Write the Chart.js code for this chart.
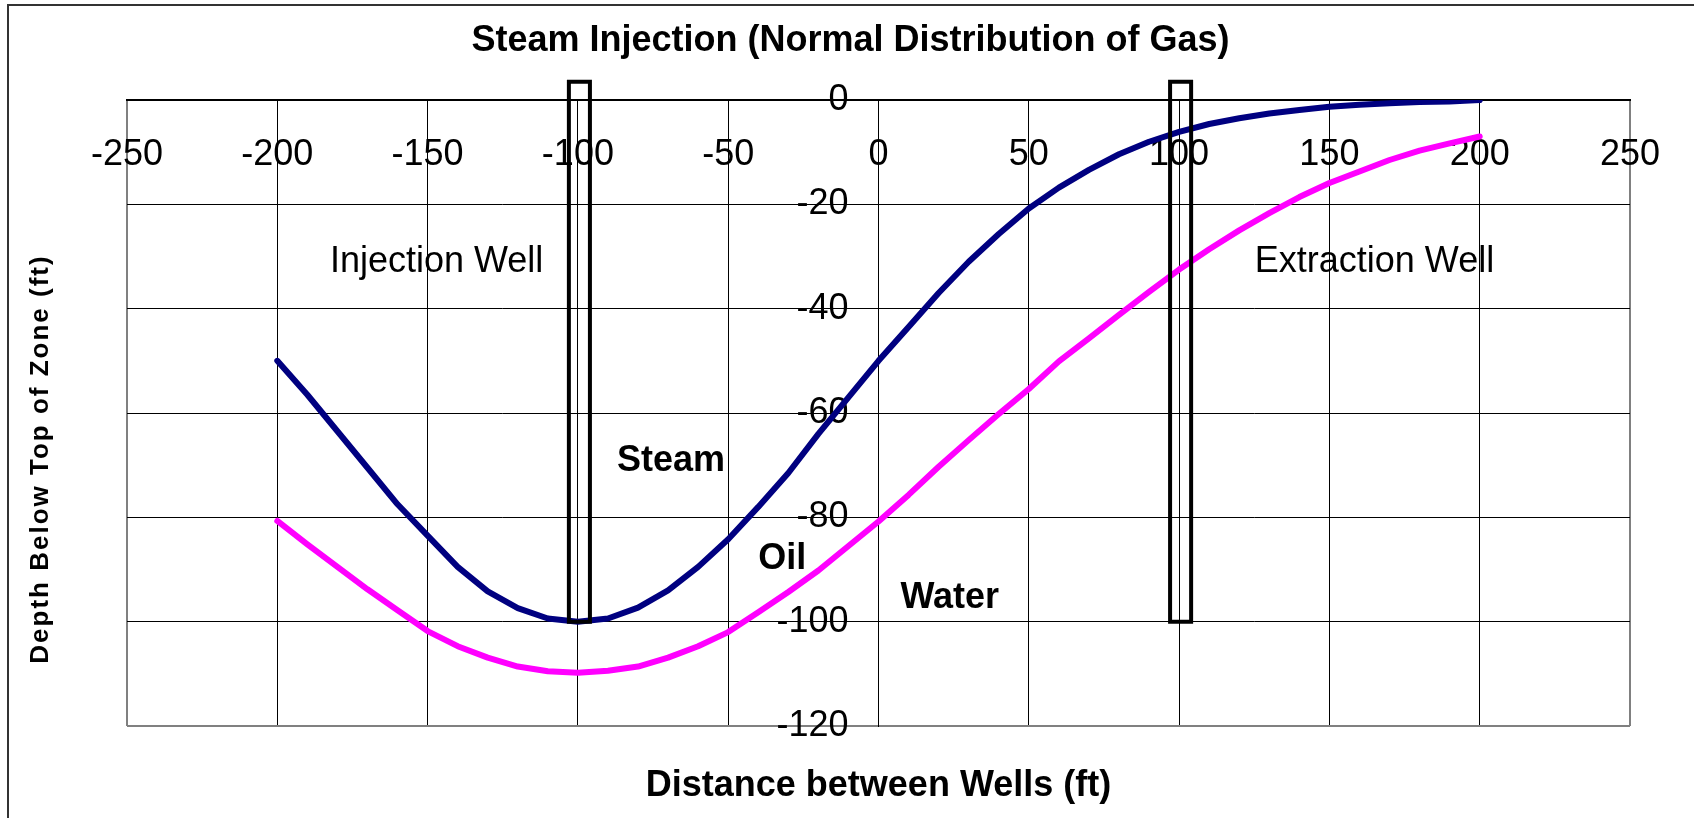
<!DOCTYPE html>
<html>
<head>
<meta charset="utf-8">
<title>Steam Injection (Normal Distribution of Gas)</title>
<script src="https://cdn.jsdelivr.net/npm/chart.js@4/dist/chart.umd.min.js"></script>
<style>
  html, body { margin: 0; padding: 0; background: #fff; }
</style>
</head>
<body>
<canvas id="steamChart" width="1694" height="818"></canvas>
<script>
// distance between the wells (ft)
const distance = [
  -200, -190, -180, -170, -160, -150, -140, -130, -120, -110, -100,
  -90, -80, -70, -60, -50, -40, -30, -20, -10, 0,
  10, 20, 30, 40, 50, 60, 70, 80, 90, 100,
  110, 120, 130, 140, 150, 160, 170, 180, 190, 200
];

// steam / oil boundary (ft below top of zone)
const steamBoundary = [
  -50, -56.5, -63.5, -70.5, -77.5, -83.5, -89.5, -94.2, -97.4, -99.4, -100,
  -99.4, -97.3, -94.0, -89.5, -84.2, -78.0, -71.5, -64.0, -57.0, -50.0,
  -43.5, -37.0, -31.0, -25.7, -20.8, -16.8, -13.4, -10.4, -8.0, -6.1,
  -4.6, -3.5, -2.6, -1.9, -1.3, -0.9, -0.6, -0.4, -0.3, 0
];

// oil / water boundary (ft below top of zone)
const waterBoundary = [
  -80.7, -85.2, -89.5, -93.8, -97.8, -101.8, -104.7, -106.9, -108.6, -109.5, -109.8,
  -109.4, -108.6, -106.9, -104.7, -102.0, -98.2, -94.3, -90.2, -85.5, -80.8,
  -75.7, -70.3, -65.2, -60.2, -55.4, -50.1, -45.7, -41.2, -36.8, -32.5,
  -28.6, -25.0, -21.7, -18.6, -15.9, -13.7, -11.5, -9.7, -8.3, -7.0
];

// wells, drawn as narrow boxes (x from / to, top / bottom depth)
const injectionWellX = [-103, -96];
const extractionWellX = [97, 104];
const wellDepth = [3.5, -100];

// tick values
const xTickValues = [-250, -200, -150, -100, -50, 0, 50, 100, 150, 200, 250];
const yTickValues = [0, -20, -40, -60, -80, -100, -120];

// texts written in the plot
const zoneText = ["Injection Well", "Extraction Well", "Steam", "Oil", "Water"];
const zoneBold = [false, false, true, true, true];
const zoneX = [-147, 165, -69, -32, 23.7];
const zoneY = [-31, -31, -69.2, -88, -95.5];

const FONT = "'Liberation Sans', Arial, Helvetica, sans-serif";
Chart.defaults.font.family = FONT;
Chart.defaults.color = "#000";

function toPoints(xs, ys) {
  return xs.map((x, i) => ({ x: x, y: ys[i] }));
}

function wellBox(xs) {
  return [
    { x: xs[0], y: wellDepth[0] },
    { x: xs[1], y: wellDepth[0] },
    { x: xs[1], y: wellDepth[1] },
    { x: xs[0], y: wellDepth[1] },
    { x: xs[0], y: wellDepth[0] },
  ];
}

const wellStyle = {
  borderColor: "#000",
  borderWidth: 4,
  borderCapStyle: "square",
  borderJoinStyle: "miter",
  pointRadius: 0,
  fill: false,
  clip: false,
};

// white page and the chart's outer frame
const frame = {
  id: "frame",
  beforeDraw(chart) {
    const ctx = chart.ctx;
    ctx.save();
    ctx.fillStyle = "#fff";
    ctx.fillRect(0, 0, chart.width, chart.height);
    ctx.strokeStyle = "#333";
    ctx.lineWidth = 2;
    ctx.beginPath();
    ctx.moveTo(8, chart.height);
    ctx.lineTo(8, 5);
    ctx.lineTo(chart.width, 5);
    ctx.stroke();
    ctx.restore();
  },
  afterLayout(chart) {
    // the y title sits a little below the middle of the plot
    const s = chart.scales.yTitle;
    s.top = chart.chartArea.top + 92;
  },
  afterDatasetsDraw(chart) {
    const ctx = chart.ctx;
    const xs = chart.scales.x;
    const ys = chart.scales.y;
    ctx.save();
    ctx.fillStyle = "#000";
    ctx.textAlign = "center";
    ctx.textBaseline = "middle";
    zoneText.forEach((t, i) => {
      ctx.font = (zoneBold[i] ? "bold " : "") + "36px " + FONT;
      ctx.fillText(t, xs.getPixelForValue(zoneX[i]), ys.getPixelForValue(zoneY[i]));
    });
    ctx.restore();
    // spaced-out letters for the rotated axis title (drawn next, z = 1)
    ctx.letterSpacing = "2px";
  },
  afterDraw(chart) {
    chart.ctx.letterSpacing = "0px";
  },
};

new Chart(document.getElementById("steamChart"), {
  type: "line",
  data: {
    datasets: [
      Object.assign({ label: "Injection Well", data: wellBox(injectionWellX) }, wellStyle),
      Object.assign({ label: "Extraction Well", data: wellBox(extractionWellX) }, wellStyle),
      {
        label: "Steam / Oil",
        data: toPoints(distance, steamBoundary),
        borderColor: "#000080",
        borderWidth: 6,
        borderCapStyle: "round",
        borderJoinStyle: "round",
        pointRadius: 0,
        tension: 0,
        fill: false,
      },
      {
        label: "Oil / Water",
        data: toPoints(distance, waterBoundary),
        borderColor: "#ff00ff",
        borderWidth: 6,
        borderCapStyle: "round",
        borderJoinStyle: "round",
        pointRadius: 0,
        tension: 0,
        fill: false,
      },
    ],
  },
  options: {
    responsive: false,
    animation: false,
    events: [],
    layout: { padding: { left: 7, right: 0, top: 0, bottom: 0 } },
    plugins: {
      legend: { display: false },
      tooltip: { enabled: false },
      title: {
        display: true,
        text: "Steam Injection (Normal Distribution of Gas)",
        color: "#000",
        font: { size: 36, weight: "bold" },
        padding: { top: 19, bottom: 37.8 },
      },
    },
    scales: {
      x: {
        type: "linear",
        position: { y: 0 },
        min: -250,
        max: 250,
        afterBuildTicks: (s) => { s.ticks = xTickValues.map((v) => ({ value: v })); },
        ticks: {
          autoSkip: false,
          maxRotation: 0,
          padding: 33,
          font: { size: 36 },
          color: "#000",
        },
        grid: {
          drawTicks: false,
          color: (c) => (c.tick && Math.abs(c.tick.value) === 250 ? "#808080" : "#000"),
          lineWidth: (c) => (c.tick && Math.abs(c.tick.value) === 250 ? 2 : 1),
        },
        border: { color: "#000", width: 2 },
      },
      y: {
        type: "linear",
        position: { x: 0 },
        min: -120,
        max: 0,
        afterBuildTicks: (s) => { s.ticks = yTickValues.map((v) => ({ value: v })); },
        ticks: {
          // labels of a centred axis end on the axis line, so pad them with spaces
          callback: (v) => v + "   ",
          font: { size: 36 },
          color: "#000",
        },
        grid: {
          drawTicks: false,
          color: (c) => (c.tick && c.tick.value === -120 ? "#808080" : "#000"),
          lineWidth: (c) => (c.tick && c.tick.value === -120 ? 2 : 1),
        },
        border: { color: "#000", width: 1 },
      },
      // title-only axes that also set the margins round the plot
      xTitle: {
        type: "linear",
        position: "bottom",
        min: 0,
        max: 1,
        afterFit: (s) => { s.height = 92; },
        ticks: { display: false },
        grid: { display: false, drawTicks: false },
        border: { display: false },
        title: {
          display: true,
          text: "Distance between Wells (ft)",
          color: "#000",
          font: { size: 36, weight: "bold" },
          padding: { top: 0, bottom: 10 },
        },
      },
      yTitle: {
        type: "linear",
        position: "left",
        min: 0,
        max: 1,
        afterFit: (s) => { s.width = 120; },
        ticks: { display: false },
        grid: { display: false, drawTicks: false, z: 1 },
        border: { display: false },
        title: {
          display: true,
          text: "Depth Below Top of Zone (ft)",
          color: "#000",
          font: { size: 26, weight: "bold" },
          padding: { top: 18, bottom: 0 },
        },
      },
      yPad: {
        type: "linear",
        position: "right",
        min: 0,
        max: 1,
        afterFit: (s) => { s.width = 64; },
        ticks: { display: false },
        grid: { display: false, drawTicks: false },
        border: { display: false },
      },
    },
  },
  plugins: [frame],
});
</script>
</body>
</html>
